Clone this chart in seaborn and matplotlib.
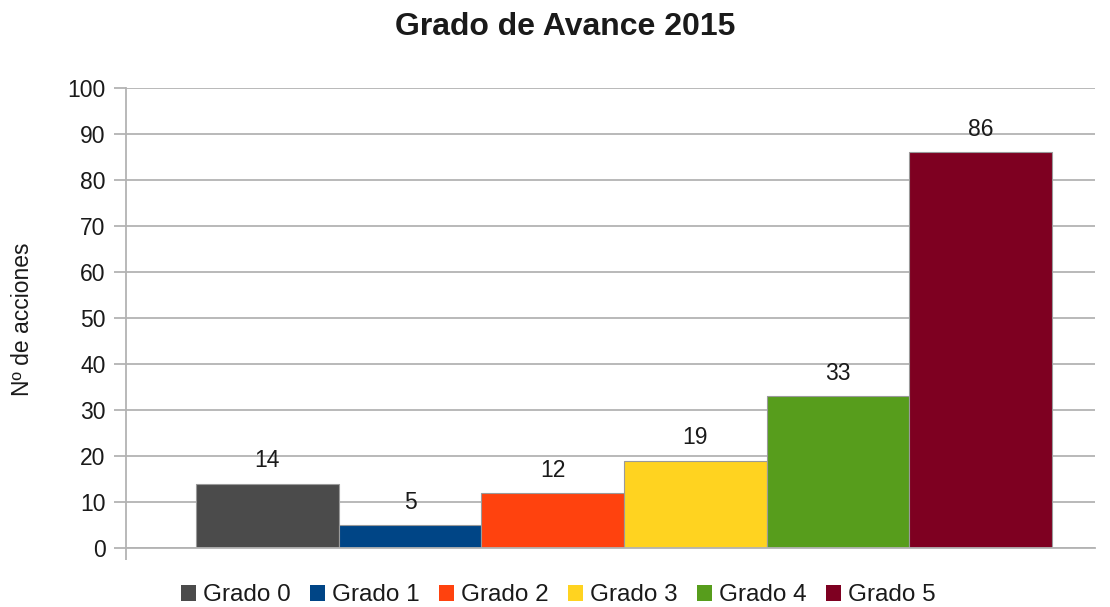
import matplotlib.pyplot as plt
import seaborn as sns
from matplotlib.patches import Patch

# data
categories = ['Grado 0', 'Grado 1', 'Grado 2', 'Grado 3', 'Grado 4', 'Grado 5']
values = [14, 5, 12, 19, 33, 86]
colors = ['#4b4b4b', '#004586', '#ff420e', '#ffd320', '#579d1c', '#7e0021']
yticks = list(range(0, 101, 10))

sns.set_theme(style='white')
plt.rcParams['font.family'] = ['Liberation Sans', 'DejaVu Sans']

grid_col = '#b3b3b3'

fig = plt.figure(figsize=(11.1, 6.07), dpi=100)
ax = fig.add_axes([0.1135, 0.0972, 0.873, 0.758])

sns.barplot(x=categories, y=values, hue=categories, palette=colors,
            width=1, saturation=1, legend=False, ax=ax,
            edgecolor='#9a9a9a', linewidth=0.8)

for cont in ax.containers:
    ax.bar_label(cont, padding=8, fontsize=16.5, color='#1a1a1a')

xmin, xmax = -0.99, 5.80
ax.set_xlim(xmin, xmax)
ax.set_ylim(0, 100)
ax.set_yticks(yticks)
ax.set_xticks([xmin])
ax.set_xticklabels([''])
ax.yaxis.grid(True, color=grid_col, linewidth=1.3)
ax.set_axisbelow(True)

ax.tick_params(axis='y', length=8.6, width=1.3, color=grid_col, labelsize=16.5,
               pad=6, labelcolor='#1a1a1a', left=True)
ax.tick_params(axis='x', length=8.6, width=1.3, color=grid_col, bottom=True)

for s in ['top', 'right']:
    ax.spines[s].set_visible(False)
for s in ['left', 'bottom']:
    ax.spines[s].set_color(grid_col)
    ax.spines[s].set_linewidth(1.3)

ax.set_xlabel('')
ax.set_ylabel('')

fig.text(0.509, 1 - 12 / 607, 'Grado de Avance 2015', ha='center', va='top',
         fontsize=23, fontweight='bold', color='#1a1a1a')
fig.text(0.02, 0.4745, 'Nº de acciones', rotation=90, ha='center', va='center',
         fontsize=16.5, color='#1a1a1a')

handles = [Patch(facecolor=c, edgecolor='none') for c in colors]
fig.legend(handles, categories, loc='lower center', bbox_to_anchor=(0.503, -0.035),
           ncol=6, frameon=False, fontsize=17.5, handlelength=0.6, handleheight=0.6,
           handletextpad=0.3, columnspacing=0.8, labelcolor='#1a1a1a')

fig.savefig('out.png', dpi=100)
